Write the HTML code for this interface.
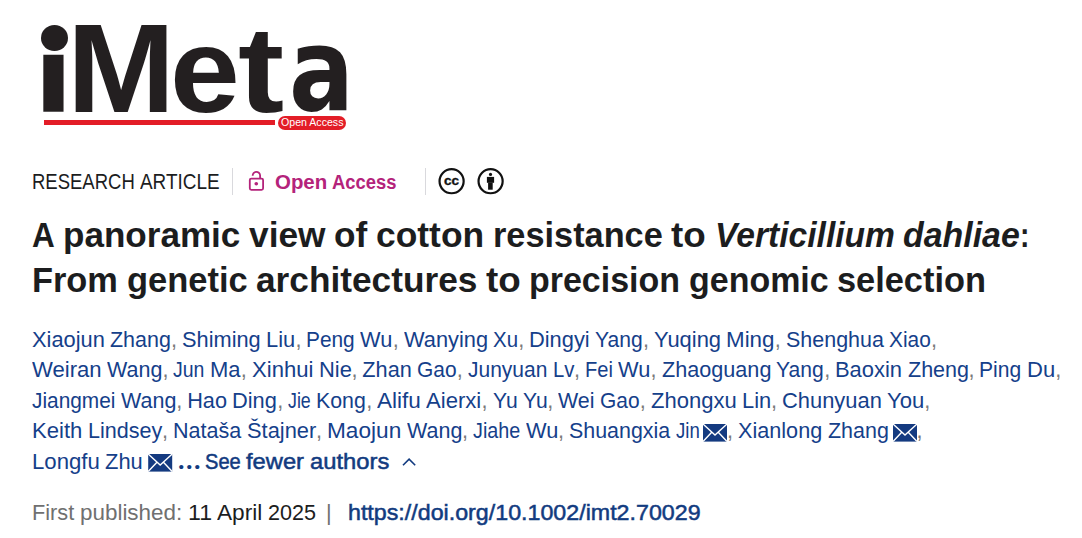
<!DOCTYPE html>
<html lang="en"><head><meta charset="utf-8"><title>A panoramic view of cotton resistance to Verticillium dahliae</title>
<style>
html,body{margin:0;padding:0;background:#fff}
body{width:1082px;height:538px;position:relative;overflow:hidden;font-family:"Liberation Sans",Arial,sans-serif}
.w{position:absolute;white-space:pre;line-height:normal;transform-origin:0 0}
.lg{position:absolute;font-family:"Liberation Sans",Arial,sans-serif;font-weight:bold;font-size:125.5px;line-height:normal;color:#231f20;white-space:pre;transform-origin:0 0;top:-4px}
</style></head><body>
<span class="w" style="left:32.00px;top:169px;font-size:21.73px;color:#1c1d1e;transform:scaleX(0.8515);">RESEARCH</span>
<span class="w" style="left:140.23px;top:169px;font-size:21.73px;color:#1c1d1e;transform:scaleX(0.8707);">ARTICLE</span>
<span class="w" style="left:275.00px;top:171px;font-size:20.18px;color:#b4237b;font-weight:700;transform:scaleX(1.0124);">Open</span>
<span class="w" style="left:332.28px;top:171px;font-size:20.18px;color:#b4237b;font-weight:700;transform:scaleX(0.9116);">Access</span>
<span class="w" style="left:32.00px;top:216px;font-size:34.15px;color:#1c1d1e;font-weight:700;transform:scaleX(0.9240);">A</span>
<span class="w" style="left:63.36px;top:216px;font-size:34.15px;color:#1c1d1e;font-weight:700;transform:scaleX(1.0269);">panoramic</span>
<span class="w" style="left:249.23px;top:216px;font-size:34.15px;color:#1c1d1e;font-weight:700;transform:scaleX(1.0346);">view</span>
<span class="w" style="left:334.41px;top:216px;font-size:34.15px;color:#1c1d1e;font-weight:700;transform:scaleX(1.0305);">of</span>
<span class="w" style="left:376.20px;top:216px;font-size:34.15px;color:#1c1d1e;font-weight:700;transform:scaleX(1.0372);">cotton</span>
<span class="w" style="left:492.95px;top:216px;font-size:34.15px;color:#1c1d1e;font-weight:700;transform:scaleX(1.0051);">resistance</span>
<span class="w" style="left:671.31px;top:216px;font-size:34.15px;color:#1c1d1e;font-weight:700;transform:scaleX(1.0785);">to</span>
<span class="w" style="left:714.66px;top:216px;font-size:34.15px;color:#1c1d1e;font-weight:700;font-style:italic;transform:scaleX(0.9848);">Verticillium</span>
<span class="w" style="left:903.23px;top:216px;font-size:34.15px;color:#1c1d1e;font-weight:700;font-style:italic;transform:scaleX(0.9923);">dahliae</span>
<span class="w" style="left:1019.98px;top:216px;font-size:34.15px;color:#1c1d1e;font-weight:700;transform:scaleX(0.8283);">:</span>
<span class="w" style="left:32.00px;top:261px;font-size:34.15px;color:#1c1d1e;font-weight:700;transform:scaleX(1.0068);">From</span>
<span class="w" style="left:126.52px;top:261px;font-size:34.15px;color:#1c1d1e;font-weight:700;transform:scaleX(1.0098);">genetic</span>
<span class="w" style="left:255.80px;top:261px;font-size:34.15px;color:#1c1d1e;font-weight:700;transform:scaleX(1.0322);">architectures</span>
<span class="w" style="left:485.72px;top:261px;font-size:34.15px;color:#1c1d1e;font-weight:700;transform:scaleX(1.0785);">to</span>
<span class="w" style="left:529.06px;top:261px;font-size:34.15px;color:#1c1d1e;font-weight:700;transform:scaleX(0.9948);">precision</span>
<span class="w" style="left:688.64px;top:261px;font-size:34.15px;color:#1c1d1e;font-weight:700;transform:scaleX(0.9951);">genomic</span>
<span class="w" style="left:836.92px;top:261px;font-size:34.15px;color:#1c1d1e;font-weight:700;transform:scaleX(1.0064);">selection</span>
<span class="w" style="left:32.00px;top:327px;font-size:21.73px;color:#15408a;transform:scaleX(1.0047);">Xiaojun</span>
<span class="w" style="left:110.27px;top:327px;font-size:21.73px;color:#15408a;transform:scaleX(0.9881);">Zhang</span>
<span class="w" style="left:171.12px;top:327px;font-size:21.73px;color:#7a7a7a;">,</span>
<span class="w" style="left:182.03px;top:327px;font-size:21.73px;color:#15408a;transform:scaleX(1.0034);">Shiming</span>
<span class="w" style="left:266.23px;top:327px;font-size:21.73px;color:#15408a;transform:scaleX(1.0059);">Liu</span>
<span class="w" style="left:295.39px;top:327px;font-size:21.73px;color:#7a7a7a;">,</span>
<span class="w" style="left:306.30px;top:327px;font-size:21.73px;color:#15408a;transform:scaleX(0.9603);">Peng</span>
<span class="w" style="left:360.48px;top:327px;font-size:21.73px;color:#15408a;transform:scaleX(1.0029);">Wu</span>
<span class="w" style="left:392.77px;top:327px;font-size:21.73px;color:#7a7a7a;">,</span>
<span class="w" style="left:403.67px;top:327px;font-size:21.73px;color:#15408a;transform:scaleX(1.0041);">Wanying</span>
<span class="w" style="left:493.19px;top:327px;font-size:21.73px;color:#15408a;transform:scaleX(0.9412);">Xu</span>
<span class="w" style="left:518.20px;top:327px;font-size:21.73px;color:#7a7a7a;">,</span>
<span class="w" style="left:529.11px;top:327px;font-size:21.73px;color:#15408a;transform:scaleX(1.0049);">Dingyi</span>
<span class="w" style="left:595.23px;top:327px;font-size:21.73px;color:#15408a;transform:scaleX(0.9711);">Yang</span>
<span class="w" style="left:642.94px;top:327px;font-size:21.73px;color:#7a7a7a;">,</span>
<span class="w" style="left:653.84px;top:327px;font-size:21.73px;color:#15408a;transform:scaleX(1.0094);">Yuqing</span>
<span class="w" style="left:726.38px;top:327px;font-size:21.73px;color:#15408a;transform:scaleX(1.0299);">Ming</span>
<span class="w" style="left:774.86px;top:327px;font-size:21.73px;color:#7a7a7a;">,</span>
<span class="w" style="left:785.77px;top:327px;font-size:21.73px;color:#15408a;transform:scaleX(0.9885);">Shenghua</span>
<span class="w" style="left:889.14px;top:327px;font-size:21.73px;color:#15408a;transform:scaleX(0.9598);">Xiao</span>
<span class="w" style="left:930.88px;top:327px;font-size:21.73px;color:#7a7a7a;">,</span>
<span class="w" style="left:32.00px;top:357px;font-size:21.73px;color:#15408a;transform:scaleX(1.0178);">Weiran</span>
<span class="w" style="left:107.09px;top:357px;font-size:21.73px;color:#15408a;transform:scaleX(0.9894);">Wang</span>
<span class="w" style="left:162.44px;top:357px;font-size:21.73px;color:#7a7a7a;">,</span>
<span class="w" style="left:173.34px;top:357px;font-size:21.73px;color:#15408a;transform:scaleX(0.8965);">Jun</span>
<span class="w" style="left:210.22px;top:357px;font-size:21.73px;color:#15408a;transform:scaleX(1.0129);">Ma</span>
<span class="w" style="left:240.78px;top:357px;font-size:21.73px;color:#7a7a7a;">,</span>
<span class="w" style="left:251.69px;top:357px;font-size:21.73px;color:#15408a;transform:scaleX(1.0166);">Xinhui</span>
<span class="w" style="left:318.53px;top:357px;font-size:21.73px;color:#15408a;transform:scaleX(1.0096);">Nie</span>
<span class="w" style="left:351.44px;top:357px;font-size:21.73px;color:#7a7a7a;">,</span>
<span class="w" style="left:362.34px;top:357px;font-size:21.73px;color:#15408a;">Zhan</span>
<span class="w" style="left:417.27px;top:357px;font-size:21.73px;color:#15408a;transform:scaleX(0.9639);">Gao</span>
<span class="w" style="left:456.84px;top:357px;font-size:21.73px;color:#7a7a7a;">,</span>
<span class="w" style="left:467.75px;top:357px;font-size:21.73px;color:#15408a;transform:scaleX(0.9663);">Junyuan</span>
<span class="w" style="left:552.58px;top:357px;font-size:21.73px;color:#15408a;transform:scaleX(0.9346);">Lv</span>
<span class="w" style="left:574.03px;top:357px;font-size:21.73px;color:#7a7a7a;">,</span>
<span class="w" style="left:584.94px;top:357px;font-size:21.73px;color:#15408a;transform:scaleX(0.9259);">Fei</span>
<span class="w" style="left:618.34px;top:357px;font-size:21.73px;color:#15408a;transform:scaleX(1.0029);">Wu</span>
<span class="w" style="left:650.62px;top:357px;font-size:21.73px;color:#7a7a7a;">,</span>
<span class="w" style="left:661.53px;top:357px;font-size:21.73px;color:#15408a;transform:scaleX(0.9957);">Zhaoguang</span>
<span class="w" style="left:776.44px;top:357px;font-size:21.73px;color:#15408a;transform:scaleX(0.9711);">Yang</span>
<span class="w" style="left:824.14px;top:357px;font-size:21.73px;color:#7a7a7a;">,</span>
<span class="w" style="left:835.05px;top:357px;font-size:21.73px;color:#15408a;transform:scaleX(1.0094);">Baoxin</span>
<span class="w" style="left:907.56px;top:357px;font-size:21.73px;color:#15408a;transform:scaleX(0.9901);">Zheng</span>
<span class="w" style="left:968.55px;top:357px;font-size:21.73px;color:#7a7a7a;">,</span>
<span class="w" style="left:979.45px;top:357px;font-size:21.73px;color:#15408a;transform:scaleX(0.9709);">Ping</span>
<span class="w" style="left:1027.14px;top:357px;font-size:21.73px;color:#15408a;transform:scaleX(1.0129);">Du</span>
<span class="w" style="left:1055.27px;top:357px;font-size:21.73px;color:#7a7a7a;">,</span>
<span class="w" style="left:32.00px;top:388px;font-size:21.73px;color:#15408a;transform:scaleX(0.9599);">Jiangmei</span>
<span class="w" style="left:120.91px;top:388px;font-size:21.73px;color:#15408a;transform:scaleX(0.9894);">Wang</span>
<span class="w" style="left:176.25px;top:388px;font-size:21.73px;color:#7a7a7a;">,</span>
<span class="w" style="left:187.16px;top:388px;font-size:21.73px;color:#15408a;">Hao</span>
<span class="w" style="left:232.42px;top:388px;font-size:21.73px;color:#15408a;transform:scaleX(1.0035);">Ding</span>
<span class="w" style="left:277.25px;top:388px;font-size:21.73px;color:#7a7a7a;">,</span>
<span class="w" style="left:288.16px;top:388px;font-size:21.73px;color:#15408a;transform:scaleX(0.8188);">Jie</span>
<span class="w" style="left:316.36px;top:388px;font-size:21.73px;color:#15408a;transform:scaleX(0.9812);">Kong</span>
<span class="w" style="left:366.14px;top:388px;font-size:21.73px;color:#7a7a7a;">,</span>
<span class="w" style="left:377.05px;top:388px;font-size:21.73px;color:#15408a;transform:scaleX(1.0374);">Alifu</span>
<span class="w" style="left:426.34px;top:388px;font-size:21.73px;color:#15408a;transform:scaleX(1.0173);">Aierxi</span>
<span class="w" style="left:481.59px;top:388px;font-size:21.73px;color:#7a7a7a;">,</span>
<span class="w" style="left:492.50px;top:388px;font-size:21.73px;color:#15408a;transform:scaleX(0.9704);">Yu</span>
<span class="w" style="left:522.59px;top:388px;font-size:21.73px;color:#15408a;transform:scaleX(0.9704);">Yu</span>
<span class="w" style="left:547.22px;top:388px;font-size:21.73px;color:#7a7a7a;">,</span>
<span class="w" style="left:558.12px;top:388px;font-size:21.73px;color:#15408a;transform:scaleX(0.9856);">Wei</span>
<span class="w" style="left:600.08px;top:388px;font-size:21.73px;color:#15408a;transform:scaleX(0.9639);">Gao</span>
<span class="w" style="left:639.66px;top:388px;font-size:21.73px;color:#7a7a7a;">,</span>
<span class="w" style="left:650.56px;top:388px;font-size:21.73px;color:#15408a;transform:scaleX(1.0137);">Zhongxu</span>
<span class="w" style="left:741.72px;top:388px;font-size:21.73px;color:#15408a;transform:scaleX(1.0059);">Lin</span>
<span class="w" style="left:770.88px;top:388px;font-size:21.73px;color:#7a7a7a;">,</span>
<span class="w" style="left:781.78px;top:388px;font-size:21.73px;color:#15408a;transform:scaleX(1.0079);">Chunyuan</span>
<span class="w" style="left:887.06px;top:388px;font-size:21.73px;color:#15408a;transform:scaleX(1.0166);">You</span>
<span class="w" style="left:924.33px;top:388px;font-size:21.73px;color:#7a7a7a;">,</span>
<span class="w" style="left:32.00px;top:418px;font-size:21.73px;color:#15408a;transform:scaleX(1.0164);">Keith</span>
<span class="w" style="left:87.80px;top:418px;font-size:21.73px;color:#15408a;transform:scaleX(0.9925);">Lindsey</span>
<span class="w" style="left:162.11px;top:418px;font-size:21.73px;color:#7a7a7a;">,</span>
<span class="w" style="left:173.02px;top:418px;font-size:21.73px;color:#15408a;transform:scaleX(0.9925);">Nataša</span>
<span class="w" style="left:246.80px;top:418px;font-size:21.73px;color:#15408a;transform:scaleX(1.0059);">Štajner</span>
<span class="w" style="left:316.03px;top:418px;font-size:21.73px;color:#7a7a7a;">,</span>
<span class="w" style="left:326.94px;top:418px;font-size:21.73px;color:#15408a;transform:scaleX(1.0423);">Maojun</span>
<span class="w" style="left:406.66px;top:418px;font-size:21.73px;color:#15408a;transform:scaleX(0.9894);">Wang</span>
<span class="w" style="left:462.00px;top:418px;font-size:21.73px;color:#7a7a7a;">,</span>
<span class="w" style="left:472.91px;top:418px;font-size:21.73px;color:#15408a;transform:scaleX(0.9106);">Jiahe</span>
<span class="w" style="left:525.66px;top:418px;font-size:21.73px;color:#15408a;transform:scaleX(1.0029);">Wu</span>
<span class="w" style="left:557.94px;top:418px;font-size:21.73px;color:#7a7a7a;">,</span>
<span class="w" style="left:568.84px;top:418px;font-size:21.73px;color:#15408a;transform:scaleX(0.9857);">Shuangxia</span>
<span class="w" style="left:675.50px;top:418px;font-size:21.73px;color:#15408a;transform:scaleX(0.8582);">Jin</span>
<span class="w" style="left:727.00px;top:418px;font-size:21.73px;color:#7a7a7a;">,</span>
<span class="w" style="left:737.91px;top:418px;font-size:21.73px;color:#15408a;transform:scaleX(0.9959);">Xianlong</span>
<span class="w" style="left:827.58px;top:418px;font-size:21.73px;color:#15408a;transform:scaleX(0.9881);">Zhang</span>
<span class="w" style="left:916.50px;top:418px;font-size:21.73px;color:#7a7a7a;">,</span>
<span class="w" style="left:32.00px;top:449px;font-size:21.73px;color:#15408a;transform:scaleX(1.0209);">Longfu</span>
<span class="w" style="left:105.30px;top:449px;font-size:21.73px;color:#15408a;transform:scaleX(1.0092);">Zhu</span>
<span class="w" style="left:205.00px;top:449px;font-size:21.73px;color:#123b80;-webkit-text-stroke:0.5px #123b80;transform:scaleX(0.9248);">See</span>
<span class="w" style="left:246.22px;top:449px;font-size:21.73px;color:#123b80;-webkit-text-stroke:0.5px #123b80;transform:scaleX(1.0921);">fewer</span>
<span class="w" style="left:309.69px;top:449px;font-size:21.73px;color:#123b80;-webkit-text-stroke:0.5px #123b80;transform:scaleX(1.0942);">authors</span>
<span class="w" style="left:32.00px;top:500px;font-size:21.73px;color:#707070;">First</span>
<span class="w" style="left:79.69px;top:500px;font-size:21.73px;color:#707070;transform:scaleX(1.0323);">published:</span>
<span class="w" style="left:187.50px;top:500px;font-size:21.73px;color:#1c1d1e;transform:scaleX(1.0651);">11</span>
<span class="w" style="left:216.98px;top:500px;font-size:21.73px;color:#1c1d1e;transform:scaleX(1.0428);">April</span>
<span class="w" style="left:267.77px;top:500px;font-size:21.73px;color:#1c1d1e;transform:scaleX(0.9939);">2025</span>
<span class="w" style="left:325.95px;top:500px;font-size:21.73px;color:#707070;">|</span>
<span class="w" style="left:347.50px;top:500px;font-size:21.73px;color:#123b80;-webkit-text-stroke:0.5px #123b80;transform:scaleX(1.0696);">https://doi.org/10.1002/imt2.70029</span>
<!-- logo -->
<span class="lg" style="left:33.4px;transform:scaleX(1.176);clip-path:inset(58.7px 0 0 0)">i</span>
<div style="position:absolute;left:40.5px;top:24.5px;width:27px;height:26px;border-radius:50%;background:#231f20"></div>
<span class="lg" style="left:66.7px;transform:scaleX(1.034)">M</span>
<span class="lg" style="left:170px;transform-origin:0 116px;transform:scaleY(0.955)">e</span>
<span class="lg" style="left:237.8px;transform-origin:0 116px;transform:scale(1.105,0.97)">t</span>
<span class="lg" style="left:288.9px;top:3.3px;font-family:'DejaVu Sans',sans-serif;font-size:115px;transform:scaleX(0.8366)">a</span>
<div style="position:absolute;left:44px;top:120px;width:231px;height:5px;background:#e31d27"></div>
<div style="position:absolute;left:278px;top:116px;width:68px;height:14px;border-radius:7px;background:#e31d27"></div>
<span style="position:absolute;left:281px;top:117.4px;font-family:'Liberation Sans',Arial,sans-serif;font-size:10px;line-height:normal;color:#fff;white-space:pre;transform-origin:0 0;transform:scaleX(1.06)">Open Access</span>
<span style="position:absolute;left:178.1px;top:446.2px;font-family:'Liberation Serif',serif;font-weight:bold;font-size:26px;line-height:normal;letter-spacing:1.5px;color:#123b80;white-space:pre">...</span>
<!-- separators -->
<div style="position:absolute;left:232px;top:168px;width:1px;height:27px;background:#d9d9dd"></div>
<div style="position:absolute;left:425px;top:168px;width:1px;height:27px;background:#d9d9dd"></div>
<!-- icons -->
<svg style="position:absolute;left:0;top:0" width="1082" height="538" viewBox="0 0 1082 538">
 <g fill="none" stroke="#b4237b" stroke-width="1.8">
  <rect x="249.8" y="178.6" width="13.3" height="11.2" rx="1.5"/>
  <path d="M252.7 175.8 A3.7 3.7 0 0 1 260.1 175.3 L260.1 178.6"/>
 </g>
 <circle cx="256.3" cy="183.8" r="1.8" fill="#b4237b"/>
 <circle cx="451.6" cy="181.2" r="12.05" fill="none" stroke="#111" stroke-width="2.2"/>
 <text x="451.6" y="184.6" text-anchor="middle" font-family="Liberation Sans, Arial, sans-serif" font-weight="bold" font-size="13.6" fill="#111" stroke="#111" stroke-width="0.35">cc</text>
 <circle cx="490.6" cy="181.2" r="12.05" fill="none" stroke="#111" stroke-width="2.2"/>
 <circle cx="490.5" cy="174.4" r="1.6" fill="#111"/>
 <rect x="486.9" y="176.9" width="7.2" height="5.9" fill="#111"/>
 <rect x="488.1" y="182.6" width="4.6" height="7.1" fill="#111"/>
 <!-- envelopes -->
 <rect x="703" y="424" width="24" height="17.6" fill="#143a80"/>
 <path d="M703 424 L715 435 L727 424 M703 441.6 L711.5 432.6 M727 441.6 L718.5 432.6" stroke="#fff" stroke-width="1.4" fill="none"/>
 <rect x="893" y="424" width="24" height="17.6" fill="#143a80"/>
 <path d="M893 424 L905 435 L917 424 M893 441.6 L901.5 432.6 M917 441.6 L908.5 432.6" stroke="#fff" stroke-width="1.4" fill="none"/>
 <rect x="148.2" y="454" width="24" height="17.6" fill="#143a80"/>
 <path d="M148.2 454 L160.2 465 L172.2 454 M148.2 471.6 L156.7 462.6 M172.2 471.6 L163.7 462.6" stroke="#fff" stroke-width="1.4" fill="none"/>
 <!-- caret -->
 <path d="M403 465.3 L409.1 459.2 L415.2 465.3" fill="none" stroke="#123b80" stroke-width="1.6"/>
</svg>
</body></html>
